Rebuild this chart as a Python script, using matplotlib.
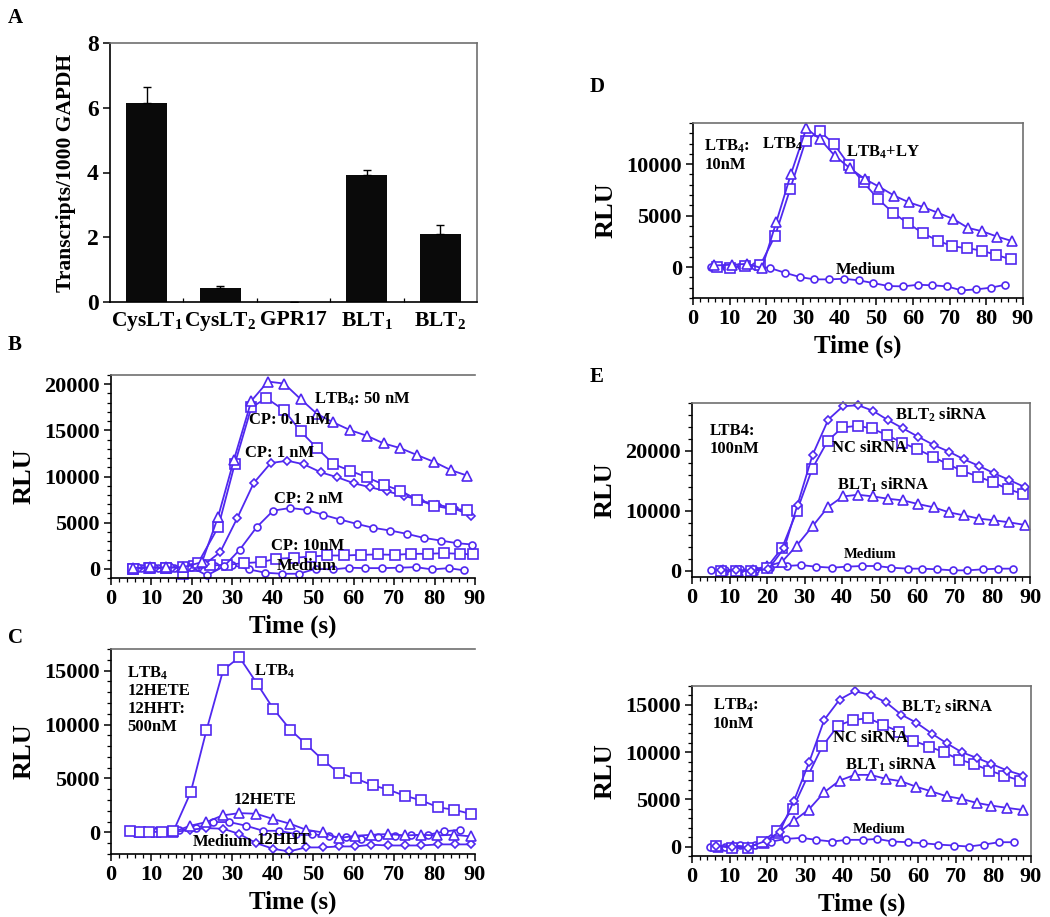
import numpy as np
import matplotlib
matplotlib.use("Agg")
from matplotlib import pyplot as plt
from matplotlib.ticker import MultipleLocator

plt.rcParams['font.family'] = ['Liberation Serif', 'DejaVu Serif']
plt.rcParams['font.weight'] = 'bold'
plt.rcParams['axes.labelweight'] = 'bold'
plt.rcParams['mathtext.fontset'] = 'custom'
plt.rcParams['mathtext.rm'] = 'Liberation Serif:bold'
plt.rcParams['mathtext.default'] = 'rm'

BLUE = '#5028F0'

# panel A - transcripts
receptors = ['CysLT$_1$', 'CysLT$_2$', 'GPR17', 'BLT$_1$', 'BLT$_2$']
transcripts = [6.15, 0.42, 0.0, 3.92, 2.1]
transcripts_err = [0.48, 0.08, 0.0, 0.16, 0.28]

# panel B - LTB4 / CP dose series
b_ltb4_x = [5.5, 9.6, 13.7, 17.9, 22.5, 26.5, 30.4, 34.7, 38.8, 42.8, 46.9, 51.0, 55.0, 59.1, 63.3, 67.4, 71.5, 75.7, 79.8, 84.0, 88.1]
b_ltb4_y = [100, 150, 150, 180, 720, 5660, 11820, 18200, 20290, 20070, 18380, 16760, 15860, 15030, 14410, 13590, 13080, 12320, 11600, 10700, 10090]
b_cp01_x = [5.5, 9.6, 13.7, 17.9, 21.5, 26.5, 30.6, 34.7, 38.4, 42.8, 46.9, 51.0, 55.0, 59.1, 63.3, 67.4, 71.5, 75.7, 79.8, 84.0, 88.1]
b_cp01_y = [0, 80, 120, 150, 600, 4500, 11350, 17480, 18490, 17190, 14880, 13050, 11350, 10630, 9910, 9120, 8470, 7500, 6850, 6490, 6380]
b_cp1_x = [6.8, 10.9, 15.0, 19.1, 23.2, 27.0, 31.2, 35.3, 39.5, 43.6, 47.7, 51.9, 56.0, 60.1, 64.1, 68.2, 72.4, 76.5, 80.6, 84.8, 88.9]
b_cp1_y = [50, 100, 80, 200, 500, 1800, 5480, 9300, 11460, 11710, 11320, 10450, 9910, 9260, 8830, 8400, 7930, 7390, 6950, 6560, 5770]
b_cp2_x = [7.5, 11.6, 15.7, 19.8, 23.7, 27.9, 31.8, 36.0, 40.1, 44.3, 48.4, 52.5, 56.7, 60.8, 64.9, 69.1, 73.2, 77.3, 81.5, 85.6, 89.3]
b_cp2_y = [80, 120, 100, 200, -720, 250, 2050, 4500, 6300, 6590, 6380, 5840, 5330, 4860, 4430, 4140, 3780, 3350, 3060, 2770, 2630]
b_cp10_x = [5.5, 9.5, 13.5, 17.9, 20.5, 24.6, 28.7, 32.8, 37.0, 40.9, 45.2, 49.4, 53.5, 57.7, 61.8, 65.9, 70.1, 74.2, 78.3, 82.3, 86.4, 89.6]
b_cp10_y = [0, 100, 80, -540, 300, 360, 430, 610, 720, 1080, 1190, 1330, 1440, 1440, 1510, 1550, 1510, 1620, 1620, 1690, 1620, 1550]
b_med_x = [5.8, 9.9, 14.0, 18.1, 21.5, 25.8, 29.9, 34.1, 38.2, 42.3, 46.5, 50.6, 54.8, 58.9, 62.9, 67.0, 71.1, 75.3, 79.4, 83.5, 87.4]
b_med_y = [0, 50, 100, 100, 200, 300, 430, -70, -430, -540, -540, 0, -70, 110, 70, 70, 110, 180, -70, 70, -180]

# panel C - LTB4 / 12HETE / 12HHT 500 nM
c_ltb4_x = [4.7, 7.2, 9.3, 12.5, 15.4, 19.7, 23.6, 27.75, 31.75, 36.1, 40.1, 44.3, 48.25, 52.3, 56.3, 60.5, 64.7, 68.6, 72.6, 76.75, 80.9, 84.9, 89.1]
c_ltb4_y = [90, 20, 60, 40, 90, 3710, 9460, 15060, 16240, 13800, 11480, 9530, 8170, 6740, 5510, 5010, 4360, 3960, 3400, 2970, 2320, 2100, 1700]
c_hete_x = [6.9, 11.1, 15.3, 19.6, 23.6, 27.6, 31.75, 35.9, 40.1, 44.3, 48.2, 52.3, 56.25, 60.4, 64.4, 68.6, 72.6, 76.75, 80.7, 84.8, 89.0]
c_hete_y = [0, 50, 30, 620, 960, 1580, 1790, 1730, 1240, 800, 250, 0, -530, -310, -220, -150, -280, -220, -280, -220, -370]
c_hht_x = [7.5, 11.6, 15.4, 19.6, 23.6, 27.75, 31.75, 35.9, 40.1, 44.0, 48.2, 52.3, 56.25, 60.4, 64.4, 68.6, 72.75, 76.75, 80.9, 85.1, 89.1]
c_hht_y = [0, 40, 20, 250, 400, 340, -150, -990, -1520, -1760, -1390, -1390, -1300, -1300, -1140, -1210, -1210, -1210, -1110, -1110, -1110]
c_med_x = [4.7, 8.8, 13.0, 16.9, 21.1, 25.25, 29.25, 33.4, 37.6, 41.5, 45.7, 49.8, 53.8, 58.0, 61.9, 66.1, 70.25, 74.25, 78.4, 82.3, 86.3]
c_med_y = [90, 120, 80, 190, 400, 960, 960, 620, 150, 150, -150, -150, -370, -460, -590, -460, -310, -280, -220, 90, 250]

# panel D - LTB4 10 nM +/- LY
d_tri_x = [5.8, 10.6, 14.7, 18.8, 22.7, 26.7, 30.9, 34.7, 38.7, 42.8, 46.9, 50.8, 54.9, 58.9, 63.0, 66.9, 71.0, 75.0, 78.9, 82.9, 87.1]
d_tri_y = [160, 230, 320, -100, 4350, 9030, 13480, 12420, 10800, 9610, 8550, 7800, 6940, 6290, 5810, 5260, 4680, 3810, 3480, 2970, 2520]
d_sq_x = [6.5, 10.2, 14.3, 18.3, 22.4, 26.5, 30.7, 34.5, 38.5, 42.5, 46.5, 50.5, 54.6, 58.5, 62.6, 66.7, 70.7, 74.7, 78.7, 82.6, 86.6]
d_sq_y = [0, -100, 150, 160, 3060, 7580, 12260, 13230, 11940, 9940, 8230, 6610, 5260, 4290, 3320, 2580, 2030, 1840, 1610, 1190, 770]
d_med_x = [5.0, 9.0, 13.1, 17.0, 21.1, 25.1, 29.2, 33.1, 37.2, 41.2, 45.3, 49.2, 53.3, 57.4, 61.4, 65.3, 69.3, 73.2, 77.3, 81.2, 85.2]
d_med_y = [0, 60, 100, 100, -100, -550, -970, -1190, -1190, -1130, -1290, -1550, -1840, -1870, -1710, -1770, -1870, -2260, -2160, -2000, -1710]

# panel E (top) - LTB4 100 nM, siRNA
e1_blt2_x = [7.6, 11.8, 15.8, 20.3, 24.6, 28.1, 32.1, 36.3, 40.2, 44.3, 48.2, 52.2, 56.2, 60.2, 64.4, 68.4, 72.4, 76.4, 80.4, 84.4, 88.6]
e1_blt2_y = [100, 150, 50, 280, 3870, 11050, 19340, 25250, 27460, 27620, 26690, 25140, 23760, 22380, 20990, 19890, 18620, 17510, 16300, 15190, 13980]
e1_nc_x = [7.8, 11.8, 15.8, 19.9, 24.0, 27.9, 32.0, 36.1, 40.0, 44.1, 47.9, 51.9, 56.0, 59.9, 64.1, 68.1, 72.0, 76.1, 80.1, 84.1, 88.2]
e1_nc_y = [0, 0, 0, 550, 3870, 9940, 17020, 21660, 23920, 24200, 23760, 22650, 21380, 20330, 19060, 17790, 16690, 15750, 14810, 13650, 12820]
e1_blt1_x = [8.2, 12.2, 16.2, 20.1, 23.9, 27.9, 32.1, 36.2, 40.2, 44.2, 48.2, 52.2, 56.2, 60.2, 64.4, 68.4, 72.4, 76.4, 80.4, 84.4, 88.6]
e1_blt1_y = [100, 50, 200, 830, 1490, 4250, 7460, 10660, 12430, 12710, 12430, 12040, 11770, 11160, 10610, 9780, 9280, 8730, 8450, 8120, 7680]
e1_med_x = [5.0, 8.9, 12.9, 16.9, 20.9, 25.2, 29.0, 33.0, 37.2, 41.2, 45.2, 49.2, 53.1, 57.4, 61.3, 65.3, 69.5, 73.3, 77.5, 81.5, 85.6]
e1_med_y = [110, 110, 280, 170, 550, 830, 990, 720, 550, 720, 830, 830, 550, 390, 390, 280, 110, 110, 280, 390, 390]

# panel E (bottom) - LTB4 10 nM, siRNA
e2_blt2_x = [6.5, 10.5, 14.9, 19.8, 23.3, 27.1, 31.1, 35.1, 39.2, 43.2, 47.4, 51.5, 55.5, 59.5, 63.8, 67.6, 71.6, 75.6, 79.5, 83.7, 88.0]
e2_blt2_y = [50, 0, -100, 640, 1590, 4870, 8930, 13410, 15570, 16450, 16060, 15280, 13980, 13130, 11930, 10940, 9990, 9390, 8750, 8050, 7520]
e2_nc_x = [6.5, 10.5, 14.9, 18.6, 22.6, 26.7, 30.8, 34.6, 38.8, 42.8, 46.8, 50.8, 54.9, 58.7, 62.9, 66.9, 70.9, 74.8, 78.9, 82.9, 87.1]
e2_nc_y = [100, -140, -140, 530, 1690, 3990, 7520, 10620, 12810, 13410, 13590, 12880, 12180, 11220, 10590, 9990, 9210, 8750, 8050, 7520, 6990]
e2_blt1_x = [7.0, 11.0, 15.0, 19.0, 22.8, 27.1, 31.0, 35.1, 39.2, 43.2, 47.4, 51.5, 55.5, 59.4, 63.4, 67.6, 71.6, 75.6, 79.5, 83.7, 87.8]
e2_blt1_y = [0, 100, 0, 400, 1410, 2750, 3920, 5750, 6990, 7590, 7590, 7170, 6920, 6350, 5860, 5330, 5050, 4620, 4340, 4090, 3880]
e2_med_x = [4.7, 8.7, 12.7, 16.8, 21.1, 24.9, 29.1, 33.0, 37.2, 41.0, 45.3, 49.2, 53.2, 57.4, 61.4, 65.4, 69.5, 73.5, 77.5, 81.5, 85.6]
e2_med_y = [0, 0, 210, 210, 530, 810, 920, 710, 530, 710, 710, 810, 530, 460, 350, 210, 110, 0, 210, 460, 460]

W, H = 1050, 917
fig = plt.figure(figsize=(W / 100, H / 100), dpi=100)


def box(l, t, r, b):
    return [l / W, 1 - b / H, (r - l) / W, (b - t) / H]


def style_axes(ax, size=16):
    for s in ['left', 'bottom']:
        ax.spines[s].set_color('black')
        ax.spines[s].set_linewidth(1.2)
    for s in ['top', 'right']:
        ax.spines[s].set_color('#707070')
        ax.spines[s].set_linewidth(1.2)
    ax.tick_params(which='major', direction='out', length=5, width=1.1, labelsize=size, pad=3)
    ax.tick_params(which='minor', direction='out', length=3, width=0.9)
    ax.tick_params(top=False, right=False)


def bold_ticks(ax):
    for t in ax.get_xticklabels() + ax.get_yticklabels():
        t.set_fontweight('bold')


def line_axes(rect, ylim, ymajor, yminor, xlabel=True, right_spine=True):
    ax = fig.add_axes(rect)
    ax.set_xlim(0, 90)
    ax.set_ylim(*ylim)
    ax.xaxis.set_major_locator(MultipleLocator(10))
    ax.xaxis.set_minor_locator(MultipleLocator(2))
    ax.yaxis.set_major_locator(MultipleLocator(ymajor))
    ax.yaxis.set_minor_locator(MultipleLocator(yminor))
    style_axes(ax)
    ax.set_ylabel('RLU', fontsize=19, fontweight='bold', labelpad=6)
    if xlabel:
        ax.set_xlabel('Time (s)', fontsize=18, fontweight='bold', labelpad=4)
    if not right_spine:
        ax.spines['right'].set_visible(False)
    return ax


def series(ax, x, y, m, ms):
    ax.plot(x, y, color=BLUE, lw=1.3, marker=m, ms=ms, mfc='white',
            mec=BLUE, mew=1.2, clip_on=False)


SQ, TRI, CIR, DIA = ('s', 6.5), ('^', 7), ('o', 5), ('D', 4)

# ---- A ----
axA = fig.add_axes(box(110, 43, 477, 302))
xa = np.arange(len(receptors))
axA.bar(xa, transcripts, width=0.56, color='#0a0a0a',
        yerr=[np.zeros(len(transcripts)), transcripts_err],
        error_kw=dict(ecolor='black', elinewidth=1, capsize=3, capthick=1))
axA.set_xlim(-0.5, 4.5)
axA.set_ylim(0, 8)
axA.set_yticks([0, 2, 4, 6, 8])
axA.set_xticks(xa)
axA.set_xticklabels(receptors, fontsize=15.5)
axA.set_xticks(xa[:-1] + 0.5, minor=True)
style_axes(axA, 17)
axA.tick_params(axis='x', which='major', length=0, pad=6, labelsize=15.5)
axA.tick_params(axis='x', which='minor', direction='in', length=3)
axA.set_ylabel('Transcripts/1000 GAPDH', fontsize=15.5, fontweight='bold', labelpad=8)

# ---- B ----
axB = line_axes(box(111, 375, 475, 578), (-1000, 21000), 5000, 1000, right_spine=False)
series(axB, b_med_x, b_med_y, *CIR)
series(axB, b_cp10_x, b_cp10_y, *SQ)
series(axB, b_cp2_x, b_cp2_y, *CIR)
series(axB, b_cp1_x, b_cp1_y, *DIA)
series(axB, b_cp01_x, b_cp01_y, *SQ)
series(axB, b_ltb4_x, b_ltb4_y, *TRI)
tk = dict(fontsize=12, fontweight='bold', va='center')
axB.text(50.2, 18400, 'LTB$_4$: 50 nM', **tk)
axB.text(34.1, 16100, 'CP: 0.1 nM', **tk)
axB.text(33.2, 12600, 'CP: 1 nM', **tk)
axB.text(40.4, 7570, 'CP: 2 nM', **tk)
axB.text(39.5, 2520, 'CP: 10nM', **tk)
axB.text(41.1, 250, 'Medium', **tk)

# ---- C ----
axC = line_axes(box(111, 649, 475, 854), (-2000, 17000), 5000, 1000, right_spine=False)
series(axC, c_med_x, c_med_y, *CIR)
series(axC, c_hht_x, c_hht_y, *DIA)
series(axC, c_hete_x, c_hete_y, *TRI)
series(axC, c_ltb4_x, c_ltb4_y, *SQ)
axC.text(4.0, 15600, 'LTB$_4$\n12HETE\n12HHT:\n500nM', fontsize=12,
         fontweight='bold', va='top', linespacing=1.15)
axC.text(35.4, 14940, 'LTB$_4$', **tk)
axC.text(30.25, 3030, '12HETE', **tk)
axC.text(20.1, -900, 'Medium', **tk)
axC.text(35.9, -680, '12HHT', **tk)

# ---- D ----
axD = line_axes(box(693, 123, 1023, 298), (-3000, 14000), 5000, 1000)
series(axD, d_med_x, d_med_y, *CIR)
series(axD, d_sq_x, d_sq_y, *SQ)
series(axD, d_tri_x, d_tri_y, *TRI)
axD.text(3.1, 12600, 'LTB$_4$:\n10nM', fontsize=12, fontweight='bold', va='top', linespacing=1.15)
axD.text(18.8, 11900, 'LTB$_4$', **tk)
axD.text(41.7, 11190, 'LTB$_4$+LY', **tk)
axD.text(39.0, -320, 'Medium', **tk)

# ---- E top ----
axE1 = line_axes(box(692, 403, 1030, 577), (-1000, 28000), 10000, 2000, xlabel=False)
series(axE1, e1_med_x, e1_med_y, *CIR)
series(axE1, e1_blt1_x, e1_blt1_y, *TRI)
series(axE1, e1_nc_x, e1_nc_y, *SQ)
series(axE1, e1_blt2_x, e1_blt2_y, *DIA)
axE1.text(4.7, 24600, 'LTB4:\n100nM', fontsize=12, fontweight='bold', va='top', linespacing=1.15)
axE1.text(54.1, 25970, 'BLT$_2$ siRNA', **tk)
axE1.text(37.2, 20550, 'NC siRNA', **tk)
axE1.text(38.6, 14360, 'BLT$_1$ siRNA', **tk)
axE1.text(40.3, 2760, 'Medium', fontsize=10.5, fontweight='bold', va='center')

# ---- E bottom ----
axE2 = line_axes(box(692, 686, 1031, 856), (-1000, 17000), 5000, 1000)
series(axE2, e2_med_x, e2_med_y, *CIR)
series(axE2, e2_blt1_x, e2_blt1_y, *TRI)
series(axE2, e2_nc_x, e2_nc_y, *SQ)
series(axE2, e2_blt2_x, e2_blt2_y, *DIA)
axE2.text(5.6, 15900, 'LTB$_4$:\n10nM', fontsize=12, fontweight='bold', va='top', linespacing=1.15)
axE2.text(55.6, 14820, 'BLT$_2$ siRNA', **tk)
axE2.text(37.5, 11510, 'NC siRNA', **tk)
axE2.text(40.6, 8680, 'BLT$_1$ siRNA', **tk)
axE2.text(42.8, 1760, 'Medium', fontsize=10.5, fontweight='bold', va='center')

for ax in [axA, axB, axC, axD, axE1, axE2]:
    bold_ticks(ax)

# panel letters
for lab, px, py in [('A', 8, 18), ('B', 8, 345), ('C', 8, 638), ('D', 590, 87), ('E', 590, 377)]:
    fig.text(px / W, 1 - py / H, lab, fontsize=15, fontweight='bold', va='center', ha='left')

fig.savefig('out.png', dpi=100)
